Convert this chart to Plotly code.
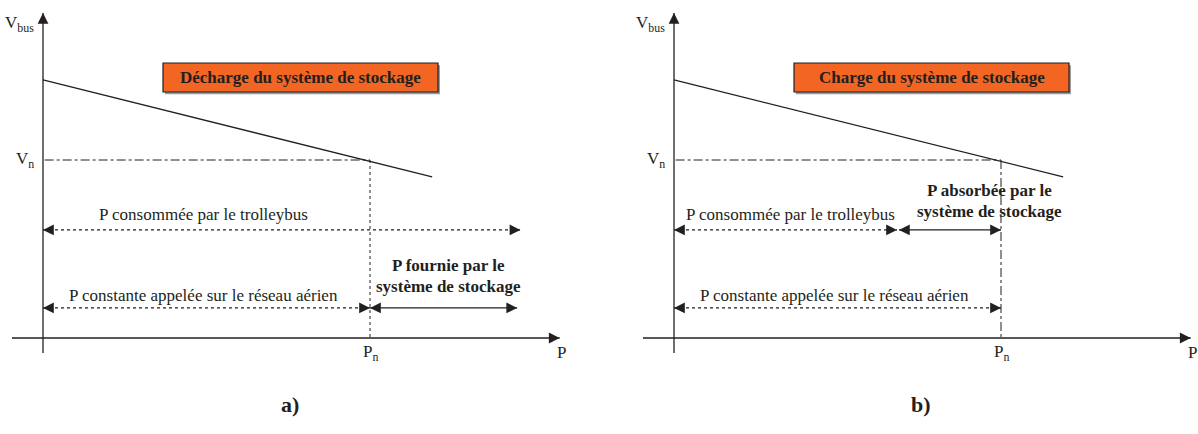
import plotly.graph_objects as go

# characteristic V_bus = f(P) (Pn = 1, Vn = 1)
P_LINE = [0.0, 1.19]
V_LINE = [1.45, 0.905]
PN = 1.0
VN = 1.0

# axis extents
P_AXIS = [-0.095, 1.58]
V_AXIS = [-0.084, 1.826]

# power flows, panel a) discharge
A_CONSO = [0.0, 1.46]
A_RESEAU = [0.0, PN]
A_STOCK = [PN, 1.45]
# power flows, panel b) charge
B_CONSO = [0.0, 0.682]
B_STOCK = [0.688, PN]
B_RESEAU = [0.0, PN]

# levels of the flow arrows (in V units)
V_CONSO = 0.607
V_RESEAU = 0.169

TITLES = ["Décharge du système de stockage", "Charge du système de stockage"]
TAGS = ["a)", "b)"]

FONT = "Liberation Serif, Times New Roman, Times, serif"
INK = "#231f20"
ORANGE = "#f26522"

fig = go.Figure()


def _head(fig, x, y, xr, direction, size=1.8):
    off = {"right": (-9, 0), "left": (9, 0), "up": (0, 9)}[direction]
    fig.add_annotation(x=x, y=y, ax=off[0], ay=off[1], xref=xr, yref="y", text="", showarrow=True,
                       arrowhead=2, arrowsize=size, arrowwidth=1.2, arrowcolor=INK, standoff=0)


def _seg(fig, xs, ys, xr, dash="solid", width=1.2):
    fig.add_trace(go.Scatter(x=xs, y=ys, mode="lines", xaxis=xr, yaxis="y", hoverinfo="skip",
                             line=dict(color=INK, width=width, dash=dash), showlegend=False))


def _text(fig, x, y, xr, text, size=17, bold=False, **kw):
    if bold:
        text = "<b>" + text + "</b>"
    fig.add_annotation(x=x, y=y, xref=xr, yref="y", text=text, showarrow=False,
                       font=dict(family=FONT, size=size, color=INK), **kw)


def panel(fig, xr, title, tag, charge):
    # axes
    _seg(fig, P_AXIS, [0, 0], xr, width=1.3)
    _seg(fig, [0, 0], V_AXIS, xr, width=1.3)
    _head(fig, P_AXIS[1], 0, xr, "right")
    _head(fig, 0, V_AXIS[1], xr, "up")
    _text(fig, -0.02, 1.765, xr, "V<sub>bus</sub>", xanchor="right")
    _text(fig, -0.02, VN, xr, "V<sub>n</sub>", xanchor="right")
    _text(fig, PN, -0.085, xr, "P<sub>n</sub>")
    _text(fig, 1.587, -0.08, xr, "P")
    _text(fig, 0.755, -0.375, xr, tag, size=22, bold=True)

    # characteristic and nominal point
    _seg(fig, P_LINE, V_LINE, xr, width=1.3)
    _seg(fig, [0.005, PN], [VN, VN], xr, dash="dashdot", width=1)
    _seg(fig, [PN, PN], [VN, 0], xr, dash="dashdot" if charge else "dot", width=1)

    # title box
    x0, x1, y0, y1 = 0.367, 1.208, 1.382, 1.545
    fig.add_shape(type="rect", xref=xr, yref="y", x0=x0 + 0.006, x1=x1 + 0.006, y0=y0 - 0.013, y1=y1 - 0.013,
                  fillcolor="#9a9a9a", line=dict(width=0), layer="below")
    fig.add_shape(type="rect", xref=xr, yref="y", x0=x0, x1=x1, y0=y0, y1=y1,
                  fillcolor=ORANGE, line=dict(color=INK, width=1.2), layer="below")
    _text(fig, (x0 + x1) / 2, (y0 + y1) / 2, xr, title, bold=True)

    if not charge:
        _seg(fig, A_CONSO, [V_CONSO] * 2, xr, dash="dot")
        _head(fig, A_CONSO[0], V_CONSO, xr, "left")
        _head(fig, A_CONSO[1], V_CONSO, xr, "right")
        _text(fig, 0.49, V_CONSO + 0.085, xr, "P consommée par le trolleybus")
        _seg(fig, A_RESEAU, [V_RESEAU] * 2, xr, dash="dot")
        _head(fig, A_RESEAU[0], V_RESEAU, xr, "left")
        _head(fig, A_RESEAU[1], V_RESEAU, xr, "right")
        _seg(fig, A_STOCK, [V_RESEAU] * 2, xr)
        _head(fig, A_STOCK[0], V_RESEAU, xr, "left")
        _head(fig, A_STOCK[1], V_RESEAU, xr, "right")
        _text(fig, 1.239, 0.41, xr, "P fournie par le", bold=True)
        _text(fig, 1.239, 0.292, xr, "système de stockage", bold=True)
    else:
        _seg(fig, B_CONSO, [V_CONSO] * 2, xr, dash="dot")
        _head(fig, B_CONSO[0], V_CONSO, xr, "left")
        _head(fig, B_CONSO[1], V_CONSO, xr, "right")
        _text(fig, 0.355, V_CONSO + 0.085, xr, "P consommée par le trolleybus")
        _seg(fig, B_STOCK, [V_CONSO] * 2, xr)
        _head(fig, B_STOCK[0], V_CONSO, xr, "left")
        _head(fig, B_STOCK[1], V_CONSO, xr, "right")
        _text(fig, 0.966, 0.831, xr, "P absorbée par le", bold=True)
        _text(fig, 0.966, 0.708, xr, "système de stockage", bold=True)
        _seg(fig, B_RESEAU, [V_RESEAU] * 2, xr, dash="dot")
        _head(fig, B_RESEAU[0], V_RESEAU, xr, "left")
        _head(fig, B_RESEAU[1], V_RESEAU, xr, "right")
    _text(fig, 0.49, V_RESEAU + 0.067, xr, "P constante appelée sur le réseau aérien")


panel(fig, "x", TITLES[0], TAGS[0], charge=False)
panel(fig, "x2", TITLES[1], TAGS[1], charge=True)

W, H = 1198, 434
px_per_p, px_per_v = 327.0, 178.0
fig.update_layout(
    width=W, height=H, margin=dict(l=0, r=0, t=0, b=0),
    paper_bgcolor="white", plot_bgcolor="white", showlegend=False,
    font=dict(family=FONT, color=INK),
    xaxis=dict(domain=[0, 599 / W], range=[-43 / px_per_p, 556 / px_per_p], visible=False, fixedrange=True),
    xaxis2=dict(domain=[631 / W, 1], range=[-43 / px_per_p, 524 / px_per_p], visible=False, anchor="y", fixedrange=True),
    yaxis=dict(domain=[0, 1], range=[-(H - 338) / px_per_v, 338 / px_per_v], visible=False, fixedrange=True),
)
fig.write_html("out.html", config={"displayModeBar": False},
               post_script="document.body.style.margin='0';document.body.style.overflow='hidden';")
